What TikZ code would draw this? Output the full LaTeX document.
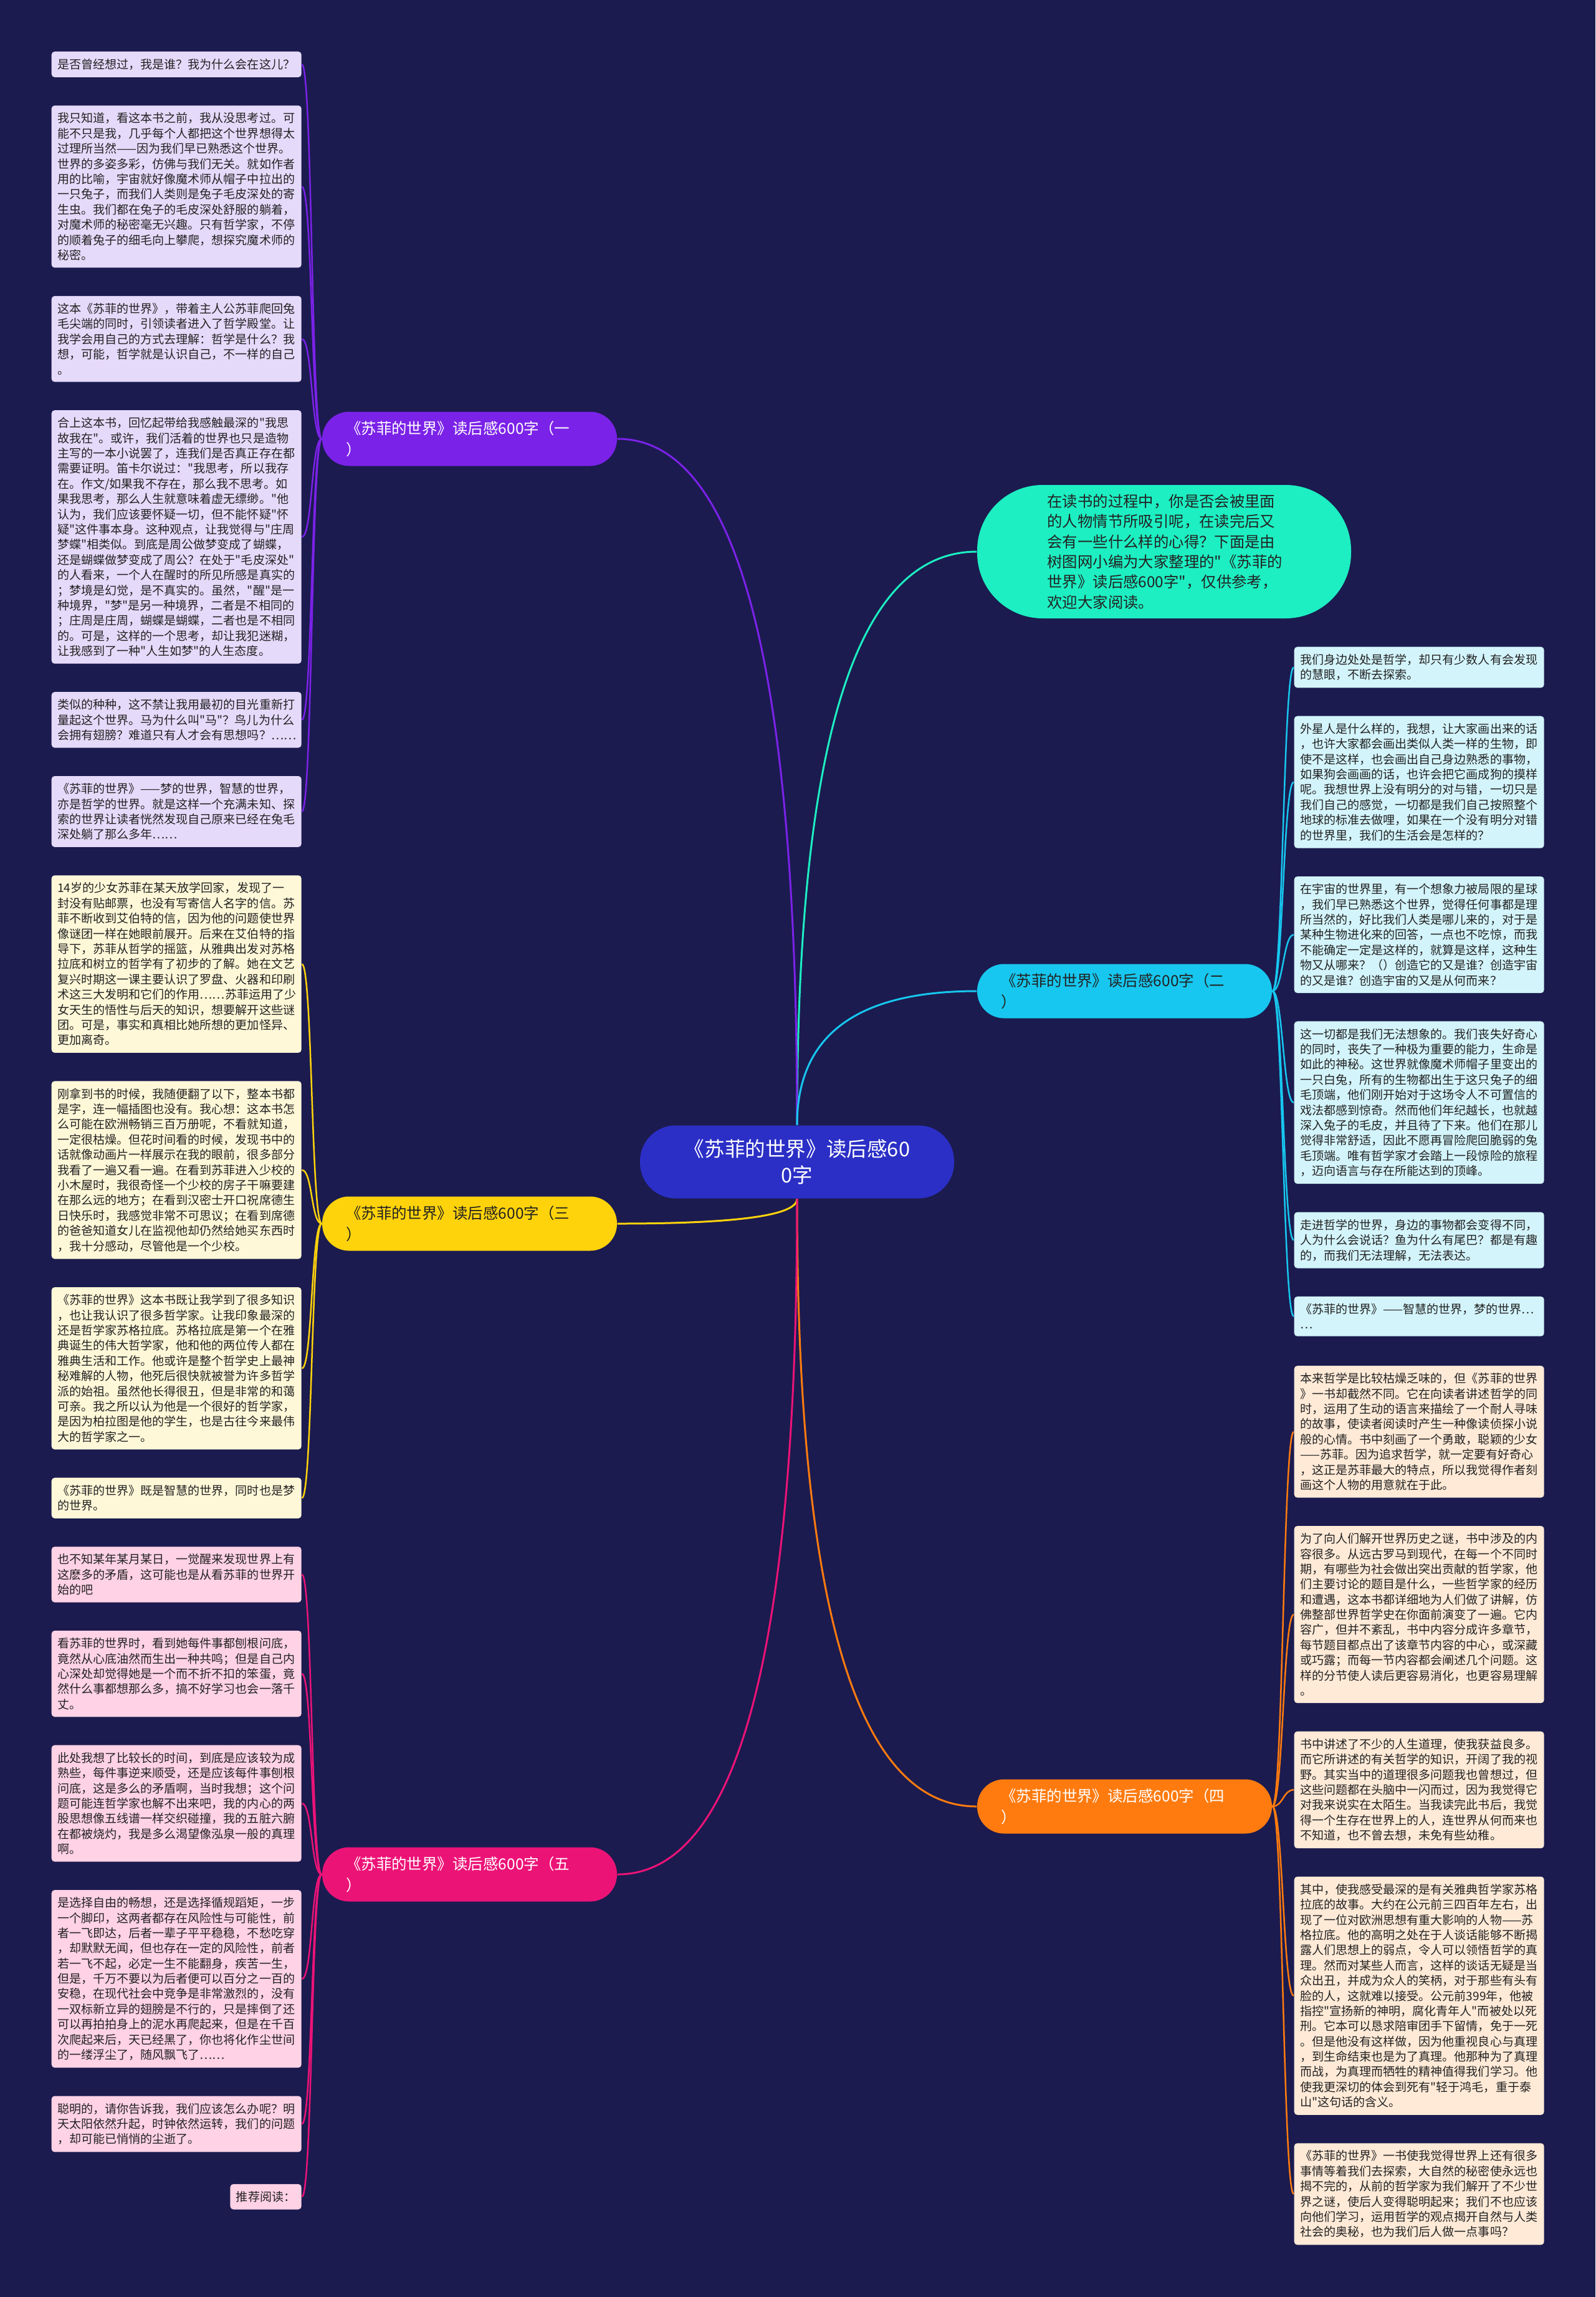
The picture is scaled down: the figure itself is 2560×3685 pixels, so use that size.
\documentclass[tikz,border=0pt]{standalone}
\usepackage{fontspec}
\newfontfamily\cjk{Noto Sans CJK SC}
\usetikzlibrary{calc}

\definecolor{navybg}{HTML}{1B1B4F}
\definecolor{rootblue}{HTML}{2B2FC6}
\definecolor{introteal}{HTML}{1DEFC2}
\definecolor{violetbr}{HTML}{7B22E8}
\definecolor{cyanbr}{HTML}{17C7EF}
\definecolor{yellowbr}{HTML}{FFD30B}
\definecolor{orangebr}{HTML}{FF7B0F}
\definecolor{pinkbr}{HTML}{EC1377}
\definecolor{violetleaf}{HTML}{E6DAFB}
\definecolor{cyanleaf}{HTML}{D3F4FB}
\definecolor{yellowleaf}{HTML}{FFF8D8}
\definecolor{orangeleaf}{HTML}{FFEAD7}
\definecolor{pinkleaf}{HTML}{FFD2E5}
\definecolor{leaftext}{HTML}{222222}

\tikzset{
  leaf/.style={
    rounded corners=0.5mm,
    inner xsep=0.95mm,
    inner ysep=1.15mm,
    text width=38.2mm,
    align=left,
    anchor=north west,
    text=leaftext,
    font=\cjk\fontsize{5.42pt}{6.94pt}\selectfont
  },
  branch/.style={
    rounded corners=4.3mm,
    minimum width=47.3mm,
    minimum height=8.7mm,
    text width=39.7mm,
    inner sep=0pt,
    align=left,
    font=\cjk\fontsize{6.97pt}{9.67pt}\selectfont
  },
  rootlink/.style={line width=0.3mm},
  leaflink/.style={line width=0.25mm}
}

\begin{document}
\begin{tikzpicture}[x=0.1mm,y=-0.1mm]

%%%%%%%%%%%%%%%%%%%%%%%%%%%%%%%%%%%%%%%%%%%%%%%%%%%%%%%%%%%%%%
% BACKGROUND
%%%%%%%%%%%%%%%%%%%%%%%%%%%%%%%%%%%%%%%%%%%%%%%%%%%%%%%%%%%%%%

\fill[navybg] (0,0) rectangle (2560,3685);
\useasboundingbox (0,0) rectangle (2560,3685);

%%%%%%%%%%%%%%%%%%%%%%%%%%%%%%%%%%%%%%%%%%%%%%%%%%%%%%%%%%%%%%
% ROOT AND INTRO
%%%%%%%%%%%%%%%%%%%%%%%%%%%%%%%%%%%%%%%%%%%%%%%%%%%%%%%%%%%%%%

\node[
fill=rootblue,
text=white,
rounded corners=5.7mm,
minimum width=50.4mm,
minimum height=11.7mm,
text width=38mm,
inner sep=0pt,
align=center,
font=\cjk\fontsize{9.28pt}{11.95pt}\selectfont
](root)
at (1279,1864)
{《苏菲的世界》读后感60\\0字};

\node[
fill=introteal,
text=leaftext,
rounded corners=10.5mm,
minimum width=60mm,
minimum height=21.4mm,
text width=37.5mm,
inner sep=0pt,
align=left,
font=\cjk\fontsize{6.94pt}{9.19pt}\selectfont
](intro)
at (1868,885)
{在读书的过程中，你是否会被里面\\
的人物情节所吸引呢，在读完后又\\
会有一些什么样的心得？下面是由\\
树图网小编为大家整理的"《苏菲的\\
世界》读后感600字"，仅供参考，\\
欢迎大家阅读。};

%%%%%%%%%%%%%%%%%%%%%%%%%%%%%%%%%%%%%%%%%%%%%%%%%%%%%%%%%%%%%%
% BRANCHES
%%%%%%%%%%%%%%%%%%%%%%%%%%%%%%%%%%%%%%%%%%%%%%%%%%%%%%%%%%%%%%

\node[branch, fill=violetbr, text=white](b1) at (753.5,704)
{《苏菲的世界》读后感600字（一\\）};

\node[branch, fill=cyanbr, text=leaftext](b2) at (1804.5,1590)
{《苏菲的世界》读后感600字（二\\）};

\node[branch, fill=yellowbr, text=leaftext](b3) at (753.5,1963)
{《苏菲的世界》读后感600字（三\\）};

\node[branch, fill=orangebr, text=white](b4) at (1804.5,2898)
{《苏菲的世界》读后感600字（四\\）};

\node[branch, fill=pinkbr, text=white](b5) at (753.5,3007)
{《苏菲的世界》读后感600字（五\\）};

%%%%%%%%%%%%%%%%%%%%%%%%%%%%%%%%%%%%%%%%%%%%%%%%%%%%%%%%%%%%%%
% LEFT COLUMN
%%%%%%%%%%%%%%%%%%%%%%%%%%%%%%%%%%%%%%%%%%%%%%%%%%%%%%%%%%%%%%

\node[leaf, fill=violetleaf](l1) at (82,82)
{是否曾经想过，我是谁？我为什么会在这儿？};

\node[leaf, fill=violetleaf](l2) at ([yshift=-4.4mm]l1.south west)
{我只知道，看这本书之前，我从没思考过。可\\
能不只是我，几乎每个人都把这个世界想得太\\
过理所当然——因为我们早已熟悉这个世界。\\
世界的多姿多彩，仿佛与我们无关。就如作者\\
用的比喻，宇宙就好像魔术师从帽子中拉出的\\
一只兔子，而我们人类则是兔子毛皮深处的寄\\
生虫。我们都在兔子的毛皮深处舒服的躺着，\\
对魔术师的秘密毫无兴趣。只有哲学家，不停\\
的顺着兔子的细毛向上攀爬，想探究魔术师的\\
秘密。};

\node[leaf, fill=violetleaf](l3) at ([yshift=-4.4mm]l2.south west)
{这本《苏菲的世界》，带着主人公苏菲爬回兔\\
毛尖端的同时，引领读者进入了哲学殿堂。让\\
我学会用自己的方式去理解：哲学是什么？我\\
想，可能，哲学就是认识自己，不一样的自己\\
。};

\node[leaf, fill=violetleaf](l4) at ([yshift=-4.4mm]l3.south west)
{合上这本书，回忆起带给我感触最深的"我思\\
故我在"。或许，我们活着的世界也只是造物\\
主写的一本小说罢了，连我们是否真正存在都\\
需要证明。笛卡尔说过："我思考，所以我存\\
在。作文/如果我不存在，那么我不思考。如\\
果我思考，那么人生就意味着虚无缥缈。"他\\
认为，我们应该要怀疑一切，但不能怀疑"怀\\
疑"这件事本身。这种观点，让我觉得与"庄周\\
梦蝶"相类似。到底是周公做梦变成了蝴蝶，\\
还是蝴蝶做梦变成了周公？在处于"毛皮深处"\\
的人看来，一个人在醒时的所见所感是真实的\\
；梦境是幻觉，是不真实的。虽然，"醒"是一\\
种境界，"梦"是另一种境界，二者是不相同的\\
；庄周是庄周，蝴蝶是蝴蝶，二者也是不相同\\
的。可是，这样的一个思考，却让我犯迷糊，\\
让我感到了一种"人生如梦"的人生态度。};

\node[leaf, fill=violetleaf](l5) at ([yshift=-4.4mm]l4.south west)
{类似的种种，这不禁让我用最初的目光重新打\\
量起这个世界。马为什么叫"马"？鸟儿为什么\\
会拥有翅膀？难道只有人才会有思想吗？……};

\node[leaf, fill=violetleaf](l6) at ([yshift=-4.4mm]l5.south west)
{《苏菲的世界》——梦的世界，智慧的世界，\\
亦是哲学的世界。就是这样一个充满未知、探\\
索的世界让读者恍然发现自己原来已经在兔毛\\
深处躺了那么多年……};

\node[leaf, fill=yellowleaf](l7) at ([yshift=-4.4mm]l6.south west)
{14岁的少女苏菲在某天放学回家，发现了一\\
封没有贴邮票，也没有写寄信人名字的信。苏\\
菲不断收到艾伯特的信，因为他的问题使世界\\
像谜团一样在她眼前展开。后来在艾伯特的指\\
导下，苏菲从哲学的摇篮，从雅典出发对苏格\\
拉底和树立的哲学有了初步的了解。她在文艺\\
复兴时期这一课主要认识了罗盘、火器和印刷\\
术这三大发明和它们的作用……苏菲运用了少\\
女天生的悟性与后天的知识，想要解开这些谜\\
团。可是，事实和真相比她所想的更加怪异、\\
更加离奇。};

\node[leaf, fill=yellowleaf](l8) at ([yshift=-4.4mm]l7.south west)
{刚拿到书的时候，我随便翻了以下，整本书都\\
是字，连一幅插图也没有。我心想：这本书怎\\
么可能在欧洲畅销三百万册呢，不看就知道，\\
一定很枯燥。但花时间看的时候，发现书中的\\
话就像动画片一样展示在我的眼前，很多部分\\
我看了一遍又看一遍。在看到苏菲进入少校的\\
小木屋时，我很奇怪一个少校的房子干嘛要建\\
在那么远的地方；在看到汉密士开口祝席德生\\
日快乐时，我感觉非常不可思议；在看到席德\\
的爸爸知道女儿在监视他却仍然给她买东西时\\
，我十分感动，尽管他是一个少校。};

\node[leaf, fill=yellowleaf](l9) at ([yshift=-4.4mm]l8.south west)
{《苏菲的世界》这本书既让我学到了很多知识\\
，也让我认识了很多哲学家。让我印象最深的\\
还是哲学家苏格拉底。苏格拉底是第一个在雅\\
典诞生的伟大哲学家，他和他的两位传人都在\\
雅典生活和工作。他或许是整个哲学史上最神\\
秘难解的人物，他死后很快就被誉为许多哲学\\
派的始祖。虽然他长得很丑，但是非常的和蔼\\
可亲。我之所以认为他是一个很好的哲学家，\\
是因为柏拉图是他的学生，也是古往今来最伟\\
大的哲学家之一。};

\node[leaf, fill=yellowleaf](l10) at ([yshift=-4.4mm]l9.south west)
{《苏菲的世界》既是智慧的世界，同时也是梦\\
的世界。};

\node[leaf, fill=pinkleaf](l11) at ([yshift=-4.4mm]l10.south west)
{也不知某年某月某日，一觉醒来发现世界上有\\
这麽多的矛盾，这可能也是从看苏菲的世界开\\
始的吧};

\node[leaf, fill=pinkleaf](l12) at ([yshift=-4.4mm]l11.south west)
{看苏菲的世界时，看到她每件事都刨根问底，\\
竟然从心底油然而生出一种共鸣；但是自己内\\
心深处却觉得她是一个而不折不扣的笨蛋，竟\\
然什么事都想那么多，搞不好学习也会一落千\\
丈。};

\node[leaf, fill=pinkleaf](l13) at ([yshift=-4.4mm]l12.south west)
{此处我想了比较长的时间，到底是应该较为成\\
熟些，每件事逆来顺受，还是应该每件事刨根\\
问底，这是多么的矛盾啊，当时我想；这个问\\
题可能连哲学家也解不出来吧，我的内心的两\\
股思想像五线谱一样交织碰撞，我的五脏六腑\\
在都被烧灼，我是多么渴望像泓泉一般的真理\\
啊。};

\node[leaf, fill=pinkleaf](l14) at ([yshift=-4.4mm]l13.south west)
{是选择自由的畅想，还是选择循规蹈矩，一步\\
一个脚印，这两者都存在风险性与可能性，前\\
者一飞即达，后者一辈子平平稳稳，不愁吃穿\\
，却默默无闻，但也存在一定的风险性，前者\\
若一飞不起，必定一生不能翻身，疾苦一生，\\
但是，千万不要以为后者便可以百分之一百的\\
安稳，在现代社会中竞争是非常激烈的，没有\\
一双标新立异的翅膀是不行的，只是摔倒了还\\
可以再拍拍身上的泥水再爬起来，但是在千百\\
次爬起来后，天已经黑了，你也将化作尘世间\\
的一缕浮尘了，随风飘飞了……};

\node[leaf, fill=pinkleaf](l15) at ([yshift=-4.4mm]l14.south west)
{聪明的，请你告诉我，我们应该怎么办呢？明\\
天太阳依然升起，时钟依然运转，我们的问题\\
，却可能已悄悄的尘逝了。};

\node[leaf, fill=pinkleaf, text width=, anchor=north east](l16)
at ([yshift=-5mm]l15.south east)
{推荐阅读：};

%%%%%%%%%%%%%%%%%%%%%%%%%%%%%%%%%%%%%%%%%%%%%%%%%%%%%%%%%%%%%%
% RIGHT COLUMN
%%%%%%%%%%%%%%%%%%%%%%%%%%%%%%%%%%%%%%%%%%%%%%%%%%%%%%%%%%%%%%

\node[leaf, fill=cyanleaf](r1) at (2076,1037)
{我们身边处处是哲学，却只有少数人有会发现\\
的慧眼，不断去探索。};

\node[leaf, fill=cyanleaf](r2) at ([yshift=-4.4mm]r1.south west)
{外星人是什么样的，我想，让大家画出来的话\\
，也许大家都会画出类似人类一样的生物，即\\
使不是这样，也会画出自己身边熟悉的事物，\\
如果狗会画画的话，也许会把它画成狗的摸样\\
呢。我想世界上没有明分的对与错，一切只是\\
我们自己的感觉，一切都是我们自己按照整个\\
地球的标准去做哩，如果在一个没有明分对错\\
的世界里，我们的生活会是怎样的？};

\node[leaf, fill=cyanleaf](r3) at ([yshift=-4.4mm]r2.south west)
{在宇宙的世界里，有一个想象力被局限的星球\\
，我们早已熟悉这个世界，觉得任何事都是理\\
所当然的，好比我们人类是哪儿来的，对于是\\
某种生物进化来的回答，一点也不吃惊，而我\\
不能确定一定是这样的，就算是这样，这种生\\
物又从哪来？（）创造它的又是谁？创造宇宙\\
的又是谁？创造宇宙的又是从何而来？};

\node[leaf, fill=cyanleaf](r4) at ([yshift=-4.4mm]r3.south west)
{这一切都是我们无法想象的。我们丧失好奇心\\
的同时，丧失了一种极为重要的能力，生命是\\
如此的神秘。这世界就像魔术师帽子里变出的\\
一只白兔，所有的生物都出生于这只兔子的细\\
毛顶端，他们刚开始对于这场令人不可置信的\\
戏法都感到惊奇。然而他们年纪越长，也就越\\
深入兔子的毛皮，并且待了下来。他们在那儿\\
觉得非常舒适，因此不愿再冒险爬回脆弱的兔\\
毛顶端。唯有哲学家才会踏上一段惊险的旅程\\
，迈向语言与存在所能达到的顶峰。};

\node[leaf, fill=cyanleaf](r5) at ([yshift=-4.4mm]r4.south west)
{走进哲学的世界，身边的事物都会变得不同，\\
人为什么会说话？鱼为什么有尾巴？都是有趣\\
的，而我们无法理解，无法表达。};

\node[leaf, fill=cyanleaf](r6) at ([yshift=-4.4mm]r5.south west)
{《苏菲的世界》——智慧的世界，梦的世界…\\
…};

\node[leaf, fill=orangeleaf](r7) at ([yshift=-4.6mm]r6.south west)
{本来哲学是比较枯燥乏味的，但《苏菲的世界\\
》一书却截然不同。它在向读者讲述哲学的同\\
时，运用了生动的语言来描绘了一个耐人寻味\\
的故事，使读者阅读时产生一种像读侦探小说\\
般的心情。书中刻画了一个勇敢，聪颖的少女\\
——苏菲。因为追求哲学，就一定要有好奇心\\
，这正是苏菲最大的特点，所以我觉得作者刻\\
画这个人物的用意就在于此。};

\node[leaf, fill=orangeleaf](r8) at ([yshift=-4.4mm]r7.south west)
{为了向人们解开世界历史之谜，书中涉及的内\\
容很多。从远古罗马到现代，在每一个不同时\\
期，有哪些为社会做出突出贡献的哲学家，他\\
们主要讨论的题目是什么，一些哲学家的经历\\
和遭遇，这本书都详细地为人们做了讲解，仿\\
佛整部世界哲学史在你面前演变了一遍。它内\\
容广，但并不紊乱，书中内容分成许多章节，\\
每节题目都点出了该章节内容的中心，或深藏\\
或巧露；而每一节内容都会阐述几个问题。这\\
样的分节使人读后更容易消化，也更容易理解\\
。};

\node[leaf, fill=orangeleaf](r9) at ([yshift=-4.4mm]r8.south west)
{书中讲述了不少的人生道理，使我获益良多。\\
而它所讲述的有关哲学的知识，开阔了我的视\\
野。其实当中的道理很多问题我也曾想过，但\\
这些问题都在头脑中一闪而过，因为我觉得它\\
对我来说实在太陌生。当我读完此书后，我觉\\
得一个生存在世界上的人，连世界从何而来也\\
不知道，也不曾去想，未免有些幼稚。};

\node[leaf, fill=orangeleaf](r10) at ([yshift=-4.4mm]r9.south west)
{其中，使我感受最深的是有关雅典哲学家苏格\\
拉底的故事。大约在公元前三四百年左右，出\\
现了一位对欧洲思想有重大影响的人物——苏\\
格拉底。他的高明之处在于人谈话能够不断揭\\
露人们思想上的弱点，令人可以领悟哲学的真\\
理。然而对某些人而言，这样的谈话无疑是当\\
众出丑，并成为众人的笑柄，对于那些有头有\\
脸的人，这就难以接受。公元前399年，他被\\
指控"宣扬新的神明，腐化青年人"而被处以死\\
刑。它本可以恳求陪审团手下留情，免于一死\\
。但是他没有这样做，因为他重视良心与真理\\
，到生命结束也是为了真理。他那种为了真理\\
而战，为真理而牺牲的精神值得我们学习。他\\
使我更深切的体会到死有"轻于鸿毛，重于泰\\
山"这句话的含义。};

\node[leaf, fill=orangeleaf](r11) at ([yshift=-4.4mm]r10.south west)
{《苏菲的世界》一书使我觉得世界上还有很多\\
事情等着我们去探索，大自然的秘密使永远也\\
揭不完的，从前的哲学家为我们解开了不少世\\
界之谜，使后人变得聪明起来；我们不也应该\\
向他们学习，运用哲学的观点揭开自然与人类\\
社会的奥秘，也为我们后人做一点事吗？};

%%%%%%%%%%%%%%%%%%%%%%%%%%%%%%%%%%%%%%%%%%%%%%%%%%%%%%%%%%%%%%
% CONNECTIONS
%%%%%%%%%%%%%%%%%%%%%%%%%%%%%%%%%%%%%%%%%%%%%%%%%%%%%%%%%%%%%%

% root to branches
\draw[rootlink, introteal] (root.north) .. controls ($(root.north)!.67!(root.north |- intro.west)$) and ($(intro.west)!.67!(root.north |- intro.west)$) .. (intro.west);
\draw[rootlink, violetbr] (root.north) .. controls ($(root.north)!.67!(root.north |- b1.east)$) and ($(b1.east)!.67!(root.north |- b1.east)$) .. (b1.east);
\draw[rootlink, cyanbr] (root.north) .. controls ($(root.north)!.67!(root.north |- b2.west)$) and ($(b2.west)!.67!(root.north |- b2.west)$) .. (b2.west);
\draw[rootlink, yellowbr] (root.south) .. controls ($(root.south)!.67!(root.south |- b3.east)$) and ($(b3.east)!.67!(root.south |- b3.east)$) .. (b3.east);
\draw[rootlink, orangebr] (root.south) .. controls ($(root.south)!.67!(root.south |- b4.west)$) and ($(b4.west)!.67!(root.south |- b4.west)$) .. (b4.west);
\draw[rootlink, pinkbr] (root.south) .. controls ($(root.south)!.67!(root.south |- b5.east)$) and ($(b5.east)!.67!(root.south |- b5.east)$) .. (b5.east);

% branch one
\draw[leaflink, violetbr] (b1.west) to[out=180,in=0,distance=1.7mm] (l1.east);
\draw[leaflink, violetbr] (b1.west) to[out=180,in=0,distance=1.7mm] (l2.east);
\draw[leaflink, violetbr] (b1.west) to[out=180,in=0,distance=1.7mm] (l3.east);
\draw[leaflink, violetbr] (b1.west) to[out=180,in=0,distance=1.7mm] (l4.east);
\draw[leaflink, violetbr] (b1.west) to[out=180,in=0,distance=1.7mm] (l5.east);
\draw[leaflink, violetbr] (b1.west) to[out=180,in=0,distance=1.7mm] (l6.east);

% branch two
\draw[leaflink, cyanbr] (b2.east) to[out=0,in=180,distance=1.7mm] (r1.west);
\draw[leaflink, cyanbr] (b2.east) to[out=0,in=180,distance=1.7mm] (r2.west);
\draw[leaflink, cyanbr] (b2.east) to[out=0,in=180,distance=1.7mm] (r3.west);
\draw[leaflink, cyanbr] (b2.east) to[out=0,in=180,distance=1.7mm] (r4.west);
\draw[leaflink, cyanbr] (b2.east) to[out=0,in=180,distance=1.7mm] (r5.west);
\draw[leaflink, cyanbr] (b2.east) to[out=0,in=180,distance=1.7mm] (r6.west);

% branch three
\draw[leaflink, yellowbr] (b3.west) to[out=180,in=0,distance=1.7mm] (l7.east);
\draw[leaflink, yellowbr] (b3.west) to[out=180,in=0,distance=1.7mm] (l8.east);
\draw[leaflink, yellowbr] (b3.west) to[out=180,in=0,distance=1.7mm] (l9.east);
\draw[leaflink, yellowbr] (b3.west) to[out=180,in=0,distance=1.7mm] (l10.east);

% branch four
\draw[leaflink, orangebr] (b4.east) to[out=0,in=180,distance=1.7mm] (r7.west);
\draw[leaflink, orangebr] (b4.east) to[out=0,in=180,distance=1.7mm] (r8.west);
\draw[leaflink, orangebr] (b4.east) to[out=0,in=180,distance=1.7mm] (r9.west);
\draw[leaflink, orangebr] (b4.east) to[out=0,in=180,distance=1.7mm] (r10.west);
\draw[leaflink, orangebr] (b4.east) to[out=0,in=180,distance=1.7mm] (r11.west);

% branch five
\draw[leaflink, pinkbr] (b5.west) to[out=180,in=0,distance=1.7mm] (l11.east);
\draw[leaflink, pinkbr] (b5.west) to[out=180,in=0,distance=1.7mm] (l12.east);
\draw[leaflink, pinkbr] (b5.west) to[out=180,in=0,distance=1.7mm] (l13.east);
\draw[leaflink, pinkbr] (b5.west) to[out=180,in=0,distance=1.7mm] (l14.east);
\draw[leaflink, pinkbr] (b5.west) to[out=180,in=0,distance=1.7mm] (l15.east);
\draw[leaflink, pinkbr] (b5.west) to[out=180,in=0,distance=1.7mm] (l16.east);

\end{tikzpicture}
\end{document}
